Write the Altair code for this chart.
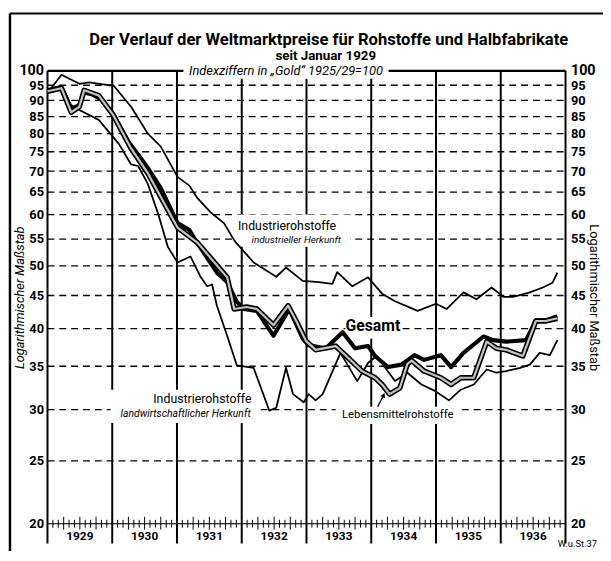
import altair as alt
import pandas as pd

# Month index: 0 = January 1929 ... 96 = January 1937
ind_m = [0.4, 2.6, 5.9, 7.7, 11.3, 12.2, 15.5, 18.6, 21.0, 24.1, 26.3, 27.8, 30.2, 32.7, 34.7, 38.2, 42.4, 44.2, 47.3, 50.3,
         52.8, 53.7, 56.5, 59.4, 62.0, 64.4, 68.6, 72.0, 74.0, 77.1, 79.5, 82.3, 84.5, 86.3, 89.4, 91.8, 93.6, 94.5]
ind_v = [93.3, 98.6, 95.5, 96.0, 95.0, 95.0, 88.0, 80.0, 76.4, 68.6, 66.5, 63.6, 60.5, 58.2, 54.6, 50.6, 48.1, 49.7, 47.4, 47.2,
         46.9, 48.9, 46.5, 48.0, 45.3, 44.1, 42.6, 43.7, 42.9, 45.5, 44.4, 46.3, 44.8, 44.8, 45.5, 46.3, 47.1, 48.8]

ges_m = [0, 2.6, 4.4, 5.9, 6.8, 8.2, 9.9, 12.2, 15.0, 16.8, 18.6, 21.0, 24.1, 26.3, 27.3, 31.4, 33.3, 35.1, 36.4, 38.8,
         41.9, 44.8, 47.3, 48.4, 51.6, 54.7, 57.0, 59.4, 60.7, 63.1, 65.6, 68.0, 69.8, 72.9, 74.8, 77.1, 80.8, 82.6, 85.0,
         88.7, 90.5, 92.3, 94.5]
ges_v = [93.3, 94.3, 87.3, 88.5, 92.6, 92.0, 90.4, 85.7, 77.7, 74.3, 70.8, 65.9, 58.2, 56.8, 55.0, 48.8, 47.2, 44.0, 42.9, 42.6,
         39.0, 42.9, 38.6, 37.7, 37.3, 39.5, 37.3, 37.6, 36.3, 34.9, 35.2, 36.4, 35.8, 36.4, 34.9, 36.7, 38.9, 38.4, 38.2,
         38.4, 41.2, 41.2, 41.8]

leb_m = [0, 2.6, 4.4, 5.9, 6.8, 9.5, 12.2, 15.5, 18.6, 24.1, 27.8, 33.3, 34.6, 36.9, 38.8, 41.9, 44.6, 46.1, 47.9, 49.7,
         53.4, 55.8, 58.3, 60.7, 62.0, 63.4, 65.3, 66.7, 67.5, 69.8, 72.9, 74.8, 76.6, 79.0, 81.4, 83.2, 85.0, 88.1, 90.5,
         92.3, 94.5]
leb_v = [93.0, 94.0, 86.3, 88.0, 93.3, 91.6, 85.4, 75.9, 69.5, 57.3, 54.3, 48.0, 42.9, 43.2, 42.9, 40.5, 43.4, 41.1, 38.3, 37.1,
         37.6, 36.0, 34.4, 33.6, 32.8, 31.7, 32.4, 35.3, 35.7, 34.4, 33.6, 32.8, 33.6, 33.6, 38.2, 37.3, 37.1, 36.3, 41.1,
         41.1, 41.5]

land_m = [0, 2.6, 4.4, 5.9, 9.5, 13.2, 15.5, 16.8, 18.6, 20.5, 22.3, 24.1, 26.5, 28.3, 29.6, 30.5, 31.4, 33.3, 35.1, 38.2,
          41.1, 42.4, 44.2, 45.5, 47.5, 48.4, 49.7, 51.0, 54.3, 57.4, 59.4, 61.0, 64.4, 66.7, 69.3, 71.7, 74.4, 76.6, 79.0,
          81.4, 83.2, 85.0, 87.6, 89.4, 91.2, 93.1, 94.5]
land_v = [93.6, 94.9, 88.5, 87.0, 84.0, 77.2, 71.7, 71.3, 66.9, 60.2, 53.5, 50.6, 51.7, 48.2, 46.5, 46.8, 43.4, 39.0, 35.1, 34.8,
          29.9, 30.2, 34.8, 31.7, 30.8, 31.7, 31.0, 31.7, 36.7, 33.2, 35.4, 36.3, 33.2, 34.2, 32.8, 32.1, 31.0, 32.2, 32.8,
          34.6, 34.2, 34.4, 34.8, 35.2, 36.7, 36.4, 38.4]

tick_values = [20, 25, 30, 35, 40, 45, 50, 55, 60, 65, 70, 75, 80, 85, 90, 95, 100]
grid_values = [25, 30, 35, 40, 45, 50, 55, 60, 65, 70, 75, 80, 85, 90, 95]
year_labels = ["1929", "1930", "1931", "1932", "1933", "1934", "1935", "1936"]
year_mid = [6, 18, 30, 42, 54, 66, 78, 90]
year_bounds = [0, 12, 24, 36, 48, 60, 72, 84, 96]

# in-chart labels (month position, index value)
lab_text = ["Industrierohstoffe", "industrieller Herkunft", "Gesamt", "Industrierohstoffe",
            "landwirtschaftlicher Herkunft", "Lebensmittelrohstoffe"]
lab_m = [44.4, 46.1, 60.3, 28.7, 25.6, 64.9]
lab_v = [57.5, 54.8, 40.3, 31.1, 29.5, 29.4]
lab_size = [12.5, 10, 16, 12.5, 10.5, 11.5]
lab_style = ["normal", "italic", "normal", "normal", "italic", "normal"]
lab_weight = ["normal", "normal", "bold", "normal", "normal", "normal"]

# white boxes behind labels (m1, m2, v1, v2)
box_m1 = [25.2, 34.4, 55.2, 11.7, 53.4]
box_m2 = [63.2, 56.1, 65.6, 39.5, 76.4]
box_v1 = [97.2, 53.5, 38.6, 28.6, 28.5]
box_v2 = [102.8, 60.0, 41.7, 32.2, 30.3]

W, H = 525, 459
FONT = "Roboto"

xs = alt.Scale(domain=[0, 96], nice=False, zero=False)
ys = alt.Scale(type="log", domain=[20, 100], nice=False)
X = alt.X("m:Q", scale=xs, axis=None)
Y = alt.Y("v:Q", scale=ys, axis=None)


def series(m, v):
    return pd.DataFrame({"m": m, "v": v})


one = pd.DataFrame({"a": [0]})

frame_left = alt.Chart(one).mark_rule(color="black", strokeWidth=2.5).encode(
    x=alt.value(-38), y=alt.value(-58), y2=alt.value(H + 40))
frame_top = alt.Chart(one).mark_rule(color="black", strokeWidth=2).encode(
    x=alt.value(-38), x2=alt.value(W + 40), y=alt.value(-58))

grid = alt.Chart(pd.DataFrame({"v": grid_values})).mark_rule(
    color="black", strokeWidth=1.3, strokeDash=[7, 5]).encode(y=Y, x=alt.value(0), x2=alt.value(W))

top_line = alt.Chart(pd.DataFrame({"v": [100]})).mark_rule(color="black", strokeWidth=2.2).encode(
    y=Y, x=alt.value(0), x2=alt.value(W))
base_line = alt.Chart(pd.DataFrame({"v": [20]})).mark_rule(color="black", strokeWidth=1.0).encode(
    y=Y, x=alt.value(0), x2=alt.value(W))

vlines = alt.Chart(pd.DataFrame({"m": year_bounds})).mark_rule(color="black", strokeWidth=2).encode(
    x=X, y=alt.value(0), y2=alt.value(H + 20))

short_months = [m for m in range(1, 96) if m % 12 != 0 and m % 3 != 0]
long_months = [m for m in range(1, 96) if m % 12 != 0 and m % 3 == 0]
ticks_s = alt.Chart(pd.DataFrame({"m": short_months})).mark_rule(color="black", strokeWidth=1).encode(
    x=X, y=alt.value(H - 4), y2=alt.value(H + 4))
ticks_l = alt.Chart(pd.DataFrame({"m": long_months})).mark_rule(color="black", strokeWidth=1).encode(
    x=X, y=alt.value(H - 7), y2=alt.value(H + 6))

boxes = alt.Chart(pd.DataFrame({"m": box_m1, "m2": box_m2, "v": box_v1, "v2": box_v2})).mark_rect(
    color="white").encode(x=X, x2="m2:Q", y=Y, y2="v2:Q")

line_ind = alt.Chart(series(ind_m, ind_v)).mark_line(color="black", strokeWidth=1.8, strokeJoin="round").encode(x=X, y=Y)
line_land = alt.Chart(series(land_m, land_v)).mark_line(color="black", strokeWidth=1.8, strokeJoin="round").encode(x=X, y=Y)
line_ges = alt.Chart(series(ges_m, ges_v)).mark_line(color="black", strokeWidth=4.2, strokeJoin="round").encode(x=X, y=Y)
line_leb_o = alt.Chart(series(leb_m, leb_v)).mark_line(color="black", strokeWidth=5.5, strokeJoin="round").encode(x=X, y=Y)
line_leb_i = alt.Chart(series(leb_m, leb_v)).mark_line(color="#c4c4c4", strokeWidth=2.2, strokeJoin="round").encode(x=X, y=Y)

labels_df = pd.DataFrame({"m": lab_m, "v": lab_v, "t": lab_text})
labels = []
for i in range(len(lab_text)):
    labels.append(alt.Chart(labels_df.iloc[[i]]).mark_text(
        font=FONT, fontSize=lab_size[i], fontStyle=lab_style[i], fontWeight=lab_weight[i], color="black"
    ).encode(x=X, y=Y, text="t:N"))

arrow = alt.Chart(pd.DataFrame({"m": [61.2], "m2": [62.3], "v": [30.3], "v2": [31.6]})).mark_rule(
    color="black", strokeWidth=1.3).encode(x=X, x2="m2:Q", y=Y, y2="v2:Q")
arrow_head = alt.Chart(pd.DataFrame({"m": [62.3], "v": [31.6]})).mark_point(
    shape="triangle-up", filled=True, color="black", size=28, angle=25, opacity=1).encode(x=X, y=Y)

idx_label = alt.Chart(pd.DataFrame({"m": [44.2], "v": [100], "t": ["Indexziffern in „Gold“ 1925/29=100"]})).mark_text(
    font=FONT, fontSize=13, fontStyle="italic", color="black").encode(x=X, y=Y, text="t:N")

years = alt.Chart(pd.DataFrame({"m": year_mid, "t": year_labels})).mark_text(
    font=FONT, fontSize=12, fontWeight="bold", color="black").encode(x=X, y=alt.value(H + 12), text="t:N")

source = alt.Chart(one).mark_text(font=FONT, fontSize=9.5, color="black", text="W.u.St.37").encode(
    x=alt.value(W + 12), y=alt.value(H + 21))

title1 = alt.Chart(one).mark_text(font=FONT, fontSize=16.8, fontWeight="bold", color="black",
                                  text="Der Verlauf der Weltmarktpreise für Rohstoffe und Halbfabrikate").encode(
    x=alt.value(285), y=alt.value(-31))
title2 = alt.Chart(one).mark_text(font=FONT, fontSize=13.5, fontWeight="bold", color="black",
                                  text="seit Januar 1929").encode(x=alt.value(282), y=alt.value(-15))

axis_df = pd.DataFrame({"m": [0] * len(tick_values), "v": tick_values})
label_size = alt.condition("datum.value == 100", alt.value(14.5), alt.value(13))
left_axis = alt.Chart(axis_df).mark_point(opacity=0).encode(
    x=X,
    y=alt.Y("v:Q", scale=ys, axis=alt.Axis(
        orient="left", values=tick_values, grid=False, ticks=False, domain=False, labelFlush=False,
        labelOverlap=False, labelFont=FONT, labelFontWeight="bold", labelFontSize=label_size, labelColor="black",
        labelPadding=4, title="Logarithmischer Maßstab", titleFont=FONT, titleFontStyle="italic",
        titleFontWeight="normal", titleFontSize=13, titleColor="black", titleX=-21, titleY=H / 2,
        titleAngle=270, titleAlign="center", titleBaseline="bottom")))
right_axis = alt.Chart(axis_df).mark_point(opacity=0).encode(
    x=X,
    y=alt.Y("v:Q", scale=ys, axis=alt.Axis(
        orient="right", values=tick_values, grid=False, ticks=False, domain=False, labelFlush=False,
        labelOverlap=False, labelFont=FONT, labelFontWeight="bold", labelFontSize=label_size, labelColor="black",
        labelPadding=5, title="Logarithmischer Maßstab", titleFont=FONT, titleFontWeight="normal",
        titleFontSize=13, titleColor="black", titleX=21, titleY=H / 2, titleAngle=90, titleAlign="center",
        titleBaseline="bottom")))

chart = alt.layer(
    frame_left, frame_top, grid, top_line, base_line, vlines, ticks_s, ticks_l, boxes,
    line_land, line_ind, line_ges, line_leb_o, line_leb_i,
    *labels, arrow, arrow_head, idx_label, years, source, title1, title2,
    left_axis, right_axis
).resolve_axis(y="independent").properties(
    width=W, height=H,
    autosize=alt.AutoSizeParams(type="none"),
    padding={"left": 40, "top": 60, "right": 38, "bottom": 24},
).configure_view(stroke=None).configure(background="white")

chart.save("out.html", embed_options={"renderer": "svg", "actions": False})
